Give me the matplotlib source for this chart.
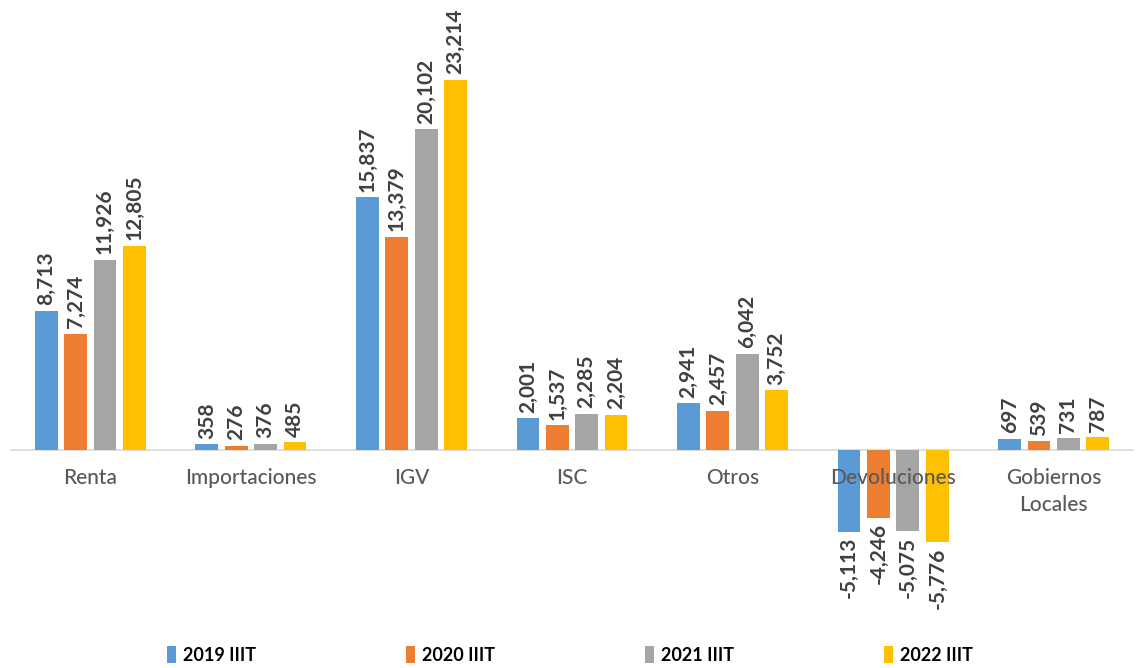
import numpy as np
import matplotlib
matplotlib.use("Agg")
import matplotlib.pyplot as plt

# ---- data ----
categories = ["Renta", "Importaciones", "IGV", "ISC", "Otros", "Devoluciones", "Gobiernos\nLocales"]
series_names = ["2019 IIIT", "2020 IIIT", "2021 IIIT", "2022 IIIT"]
v2019 = [8713, 358, 15837, 2001, 2941, -5113, 697]
v2020 = [7274, 276, 13379, 1537, 2457, -4246, 539]
v2021 = [11926, 376, 20102, 2285, 6042, -5075, 731]
v2022 = [12805, 485, 23214, 2204, 3752, -5776, 787]
colors = ["#5b9bd5", "#ed7d31", "#a5a5a5", "#ffc000"]

fig = plt.figure(figsize=(11.38, 6.68), dpi=100)
ax = fig.add_axes([10/1138, 1 - 610/668, 1124/1138, 610/668])

x = np.arange(len(categories))
pitch = 0.183
width = 0.142
for i, (vals, name, c) in enumerate(zip([v2019, v2020, v2021, v2022], series_names, colors)):
    xs = x + (i - 1.5) * pitch
    ax.bar(xs, vals, width, color=c, label=name, zorder=2)
    for xi, v in zip(xs, vals):
        ax.annotate(f"{v:,}", xy=(xi, v), xytext=(0, 4 if v >= 0 else -4),
                    textcoords="offset points", rotation=90, ha="center",
                    va="bottom" if v >= 0 else "top", fontsize=15,
                    fontweight="bold", color="#404040", family="Lato")

ax.axhline(0, color="#d9d9d9", lw=1.2, zorder=1)
ax.set_xlim(-0.5, len(categories) - 0.5)
ax.set_ylim(-10030, 28210)
ax.axis("off")

for xi, cat in zip(x, categories):
    ax.annotate(cat, xy=(xi, 0), xytext=(0, -13), textcoords="offset points",
                ha="center", va="top", fontsize=15, color="#595959",
                family="Lato", fontweight="medium", linespacing=1.45, zorder=3)

leg = fig.legend(loc="center", bbox_to_anchor=(0.501, 1 - 655/668), ncol=4,
                 frameon=False, handlelength=0.5, handleheight=1.0,
                 handletextpad=0.4, columnspacing=8.3,
                 prop={"family": "Lato", "weight": "bold", "size": 13})

fig.savefig("out.png", dpi=100)
